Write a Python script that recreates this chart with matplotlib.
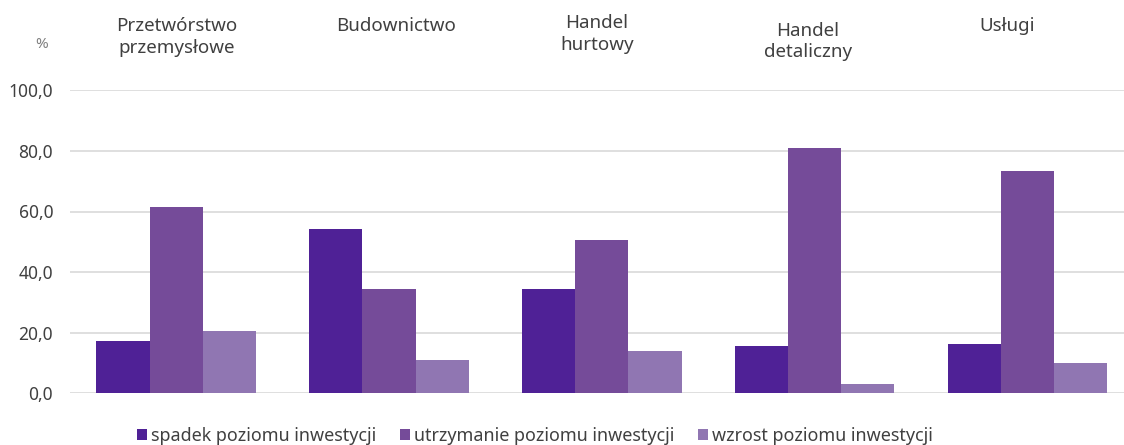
import matplotlib.pyplot as plt
import numpy as np

# dane
kategorie = ["Przetwórstwo\nprzemysłowe", "Budownictwo", "Handel\nhurtowy",
             "Handel\ndetaliczny", "Usługi"]
spadek = [17.4, 54.2, 34.3, 15.6, 16.2]
utrzymanie = [61.6, 34.3, 50.6, 80.9, 73.4]
wzrost = [20.7, 10.9, 14.1, 3.0, 9.9]
serie = ["spadek poziomu inwestycji", "utrzymanie poziomu inwestycji",
         "wzrost poziomu inwestycji"]
kolory = ["#4f2196", "#754b99", "#9076b2"]

plt.rcParams['font.family'] = ['Noto Sans', 'DejaVu Sans']

W, H = 1124, 445
fig = plt.figure(figsize=(W / 100, H / 100), dpi=100)
ax = fig.add_axes([69.9 / W, 51.7 / H, 1063.8 / W, 303 / H])

x = np.arange(len(kategorie))
w = 0.25
for i, (vals, nazwa) in enumerate(zip([spadek, utrzymanie, wzrost], serie)):
    ax.bar(x + (i - 1) * w, vals, w, color=kolory[i], label=nazwa, zorder=2)

ax.set_xlim(-0.5, len(kategorie) - 0.5)
ax.set_ylim(0, 100)
ax.set_yticks(np.arange(0, 101, 20))
ax.set_yticklabels([f"{v:.1f}".replace(".", ",") for v in range(0, 101, 20)])
ax.tick_params(axis='y', length=0, pad=12, labelsize=12.5, labelcolor="#404040")
ax.set_xticks([])
ax.grid(axis='y', color="#d9d9d9", linewidth=1.2, zorder=0)
for s in ax.spines.values():
    s.set_visible(False)

# podpisy kategorii na gorze (srodek w pikselach)
lab_xy = [(177, 37), (396, 26), (597, 34), (808, 41.5), (1007, 26)]
for k, (px, py) in zip(kategorie, lab_xy):
    fig.text(px / W, 1 - py / H, k, ha='center', va='center',
             fontsize=13.5, color="#404040", linespacing=1.25)

fig.text(42 / W, 1 - 44 / H, "%", ha='center', va='center',
         fontsize=11, color="#808080")

ax.legend(loc='center', bbox_to_anchor=(535 / W, 1 - 436 / H),
          bbox_transform=fig.transFigure, ncol=3, frameon=False,
          fontsize=12.9, handlelength=0.55, handleheight=0.55,
          handletextpad=0.2, columnspacing=1.35, labelcolor="#404040")

plt.savefig("out.png", dpi=100)
